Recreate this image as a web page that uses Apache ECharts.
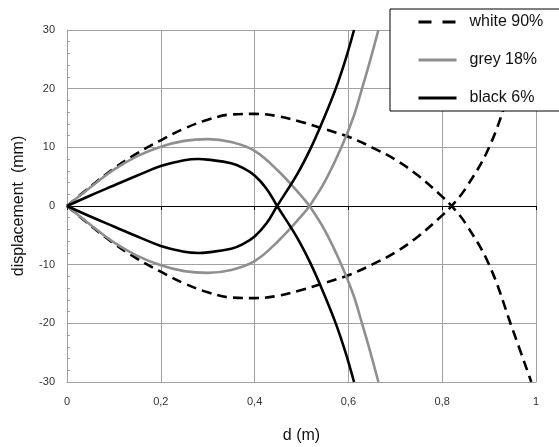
<!DOCTYPE html>
<html>
<head>
<meta charset="utf-8">
<script src="https://cdn.jsdelivr.net/npm/echarts@6/dist/echarts.min.js"></script>
<style>
html,body{margin:0;padding:0;background:#fff;}
#chart{width:559px;height:447px;}
</style>
</head>
<body>
<div id="chart"></div>
<script>
// ---- data (d in m, displacement in mm) ----
var seriesNames = ['white 90%', 'grey 18%', 'black 6%'];
var xTicks = [0, 0.2, 0.4, 0.6, 0.8, 1];
var yTicks = [-30, -20, -10, 0, 10, 20, 30];

var whiteD     = [0, 0.05, 0.1, 0.15, 0.2, 0.25, 0.3, 0.35, 0.4, 0.45, 0.5, 0.55, 0.6, 0.65, 0.7, 0.75, 0.8, 0.82, 0.85, 0.9, 0.95, 0.99];
var whiteUpper = [0, 3.3, 6.4, 9.0, 11.2, 13.2, 14.7, 15.6, 15.7, 15.3, 14.3, 13.1, 11.8, 10.0, 7.9, 5.1, 1.6, 0, -3.0, -10.0, -21.0, -30.0];
var whiteLower = [0, -3.3, -6.4, -9.0, -11.2, -13.2, -14.7, -15.6, -15.7, -15.3, -14.3, -13.1, -11.8, -10.0, -7.9, -5.1, -1.6, 0, 3.0, 10.0, 21.0, 30.0];

var greyD      = [0, 0.05, 0.1, 0.15, 0.2, 0.25, 0.3, 0.35, 0.4, 0.45, 0.5, 0.517, 0.55, 0.585, 0.61, 0.629, 0.647, 0.664];
var greyUpper  = [0, 3.2, 6.2, 8.5, 10.1, 11.1, 11.4, 10.9, 9.4, 6.0, 1.7, 0, -4.2, -10.0, -15.0, -20.0, -25.0, -30.0];
var greyLower  = [0, -3.2, -6.2, -8.5, -10.1, -11.1, -11.4, -10.9, -9.4, -6.0, -1.7, 0, 4.2, 10.0, 15.0, 20.0, 25.0, 30.0];

var blackD     = [0, 0.05, 0.1, 0.15, 0.2, 0.25, 0.28, 0.3, 0.35, 0.375, 0.4, 0.425, 0.448, 0.49, 0.52, 0.548, 0.573, 0.594, 0.612];
var blackUpper = [0, 1.8, 3.5, 5.2, 6.8, 7.8, 8.0, 7.9, 7.3, 6.5, 5.2, 3.0, 0, -5.3, -9.9, -15.0, -20.0, -25.0, -30.0];
var blackLower = [0, -1.8, -3.5, -5.2, -6.8, -7.8, -8.0, -7.9, -7.3, -6.5, -5.2, -3.0, 0, 5.3, 9.9, 15.0, 20.0, 25.0, 30.0];

function pairs(xs, ys) { return xs.map(function (x, i) { return [x, ys[i]]; }); }
function comma(v) { return String(v).replace('.', ','); }

var whiteStyle = { color: '#000', width: 2.6, type: [10, 6] };
var greyStyle  = { color: '#8f8f8f', width: 2.6 };
var blackStyle = { color: '#000', width: 2.6 };

function mk(name, data, style) {
  return {
    name: name, type: 'line', data: data, xAxisIndex: 0, yAxisIndex: 0,
    showSymbol: false, symbol: 'none', smooth: 0.4, clip: true,
    lineStyle: style, itemStyle: { color: style.color }, z: 5
  };
}

var hideSym = { opacity: 0, borderWidth: 0 };

var chart = echarts.init(document.getElementById('chart'), null, { renderer: 'canvas' });
chart.setOption({
  animation: false,
  backgroundColor: '#fff',
  grid: { left: 67, right: 23, top: 30, bottom: 65, containLabel: false, outerBoundsMode: 'none' },
  legend: {
    orient: 'vertical',
    left: 390, top: 9,
    padding: [5, 40, 5, 27],
    backgroundColor: '#fff',
    borderColor: '#000', borderWidth: 1,
    itemWidth: 38, itemHeight: 16, itemGap: 22,
    itemStyle: hideSym,
    textStyle: { fontFamily: 'Liberation Sans', fontSize: 16, color: '#111', padding: [0, 0, 0, 8] },
    data: [
      { name: seriesNames[0], itemStyle: hideSym, lineStyle: { type: [13, 11], width: 3 } },
      { name: seriesNames[1], itemStyle: hideSym, lineStyle: { width: 3 } },
      { name: seriesNames[2], itemStyle: hideSym, lineStyle: { width: 3 } }
    ],
    z: 10
  },
  xAxis: [
    {
      type: 'value', min: xTicks[0], max: xTicks[xTicks.length - 1], interval: 0.2,
      axisLine: { show: true, onZero: true, lineStyle: { color: '#000', width: 1 } },
      axisTick: { show: true, length: 4, lineStyle: { color: '#000' } },
      axisLabel: { show: false },
      splitLine: { show: false }
    },
    {
      type: 'value', position: 'bottom', min: xTicks[0], max: xTicks[xTicks.length - 1], interval: 0.2,
      axisLine: { show: true, onZero: false, lineStyle: { color: '#a0a0a0' } },
      axisTick: { show: false },
      axisLabel: { show: true, margin: 14, formatter: comma, fontFamily: 'Liberation Sans', fontSize: 11, color: '#333' },
      splitLine: { show: true, lineStyle: { color: '#a0a0a0', width: 1 } },
      name: 'd (m)', nameLocation: 'middle', nameGap: 46,
      nameTextStyle: { fontFamily: 'Liberation Sans', fontSize: 16, color: '#111' }
    }
  ],
  yAxis: {
    type: 'value', min: yTicks[0], max: yTicks[yTicks.length - 1], interval: 10,
    axisLine: { show: true, onZero: false, lineStyle: { color: '#a0a0a0' } },
    axisTick: { show: true, inside: true, length: 4, lineStyle: { color: '#a0a0a0' } },
    minorTick: { show: true, splitNumber: 5, length: 3, lineStyle: { color: '#a0a0a0' } },
    axisLabel: { margin: 12, fontFamily: 'Liberation Sans', fontSize: 11, color: '#333' },
    splitLine: { show: true, lineStyle: { color: '#a0a0a0', width: 1 } },
    name: 'displacement  (mm)', nameLocation: 'middle', nameGap: 40, nameRotate: 90,
    nameTextStyle: { fontFamily: 'Liberation Sans', fontSize: 16, color: '#111' }
  },
  series: [
    mk(seriesNames[0], pairs(whiteD, whiteUpper), whiteStyle),
    mk(seriesNames[0], pairs(whiteD, whiteLower), whiteStyle),
    mk(seriesNames[1], pairs(greyD, greyUpper), greyStyle),
    mk(seriesNames[1], pairs(greyD, greyLower), greyStyle),
    mk(seriesNames[2], pairs(blackD, blackUpper), blackStyle),
    mk(seriesNames[2], pairs(blackD, blackLower), blackStyle)
  ]
});
</script>
</body>
</html>
